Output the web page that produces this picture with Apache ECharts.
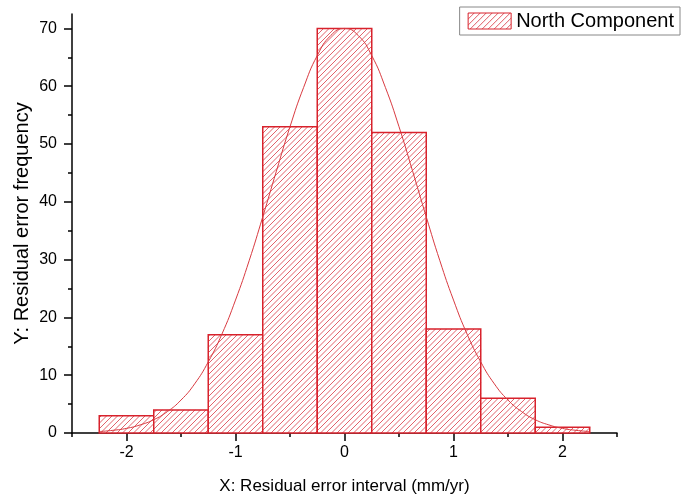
<!DOCTYPE html>
<html>
<head>
<meta charset="utf-8">
<script src="https://cdn.jsdelivr.net/npm/echarts@6/dist/echarts.min.js"></script>
<style>html,body{margin:0;padding:0;background:#fff;}#c{width:694px;height:502px;}</style>
</head>
<body>
<div id="c"></div>
<script>
// Histogram bins (centers, width 0.5) and counts
const binCenters = [-2, -1.5, -1, -0.5, 0, 0.5, 1, 1.5, 2];
const binCounts  = [3, 4, 17, 53, 70, 52, 18, 6, 1];
const binWidth = 0.5;
// Fitted curve points
const curveX = [-2.25,-2.125,-2,-1.875,-1.75,-1.625,-1.5,-1.375,-1.25,-1.125,-1,-0.875,-0.75,-0.625,-0.5,-0.375,-0.25,-0.125,0,0.125,0.25,0.375,0.5,0.625,0.75,0.875,1,1.125,1.25,1.375,1.5,1.625,1.75,1.875,2,2.125,2.25];
const curveY = [0.25,0.46,0.8,1.4,2.3,3.7,5.7,8.5,12.3,17.1,23,29.8,37.4,45.3,53,59.8,65.3,68.8,70,68.8,65.3,59.8,53,45.3,37.4,29.8,23,17.1,12.3,8.5,5.7,3.7,2.3,1.4,0.8,0.46,0.25];
const xMajorTicks = [-2, -1, 0, 1, 2];
const xMinorTicks = [-2.5, -1.5, -0.5, 0.5, 1.5, 2.5];
const yMajorTicks = [0, 10, 20, 30, 40, 50, 60, 70];
const yMinorTicks = [5, 15, 25, 35, 45, 55, 65];

const RED = '#d8222c';
const HATCH = '#dc4650';
const HATCH_STEP = 5.5;
function hatchCanvas() {
  const c = document.createElement('canvas');
  const s = 6;
  c.width = s; c.height = s;
  const g = c.getContext('2d');
  g.fillStyle = '#ffffff';
  g.fillRect(0, 0, s, s);
  g.strokeStyle = HATCH;
  g.lineWidth = 0.9;
  g.beginPath();
  g.moveTo(0, s); g.lineTo(s, 0);
  g.moveTo(-1, 1); g.lineTo(1, -1);
  g.moveTo(s - 1, s + 1); g.lineTo(s + 1, s - 1);
  g.stroke();
  return c;
}

const chart = echarts.init(document.getElementById('c'), null, { renderer: 'canvas' });
const font = 'Liberation Sans, Arial, sans-serif';
const axisLineStyle = { color: '#000', width: 1.5 };

function renderBar(params, api) {
  const xc = api.value(0), v = api.value(1);
  const p1 = api.coord([xc - binWidth / 2, v]);
  const p2 = api.coord([xc + binWidth / 2, 0]);
  const x0 = p1[0], x1 = p2[0], y0 = p1[1], y1 = p2[1];
  const children = [{
    type: 'rect', shape: { x: x0, y: y0, width: x1 - x0, height: y1 - y0 },
    style: { fill: '#fff', stroke: null }
  }];
  const kStart = Math.ceil((x0 + y0) / HATCH_STEP) * HATCH_STEP;
  for (let k = kStart; k <= x1 + y1; k += HATCH_STEP) {
    const xa = Math.max(x0, k - y1), xb = Math.min(x1, k - y0);
    if (xb > xa) {
      children.push({
        type: 'line', shape: { x1: xa, y1: k - xa, x2: xb, y2: k - xb },
        style: { stroke: HATCH, lineWidth: 0.85 }
      });
    }
  }
  children.push({
    type: 'rect', shape: { x: x0, y: y0, width: x1 - x0, height: y1 - y0 },
    style: { fill: null, stroke: RED, lineWidth: 1.5 }
  });
  return { type: 'group', children: children };
}

chart.setOption({
  animation: false,
  grid: { left: 72, right: 77, top: 14, bottom: 69 },
  legend: {
    right: 14, top: 7,
    orient: 'vertical',
    borderColor: '#888', borderWidth: 1,
    padding: [4, 6, 4, 8],
    itemWidth: 43, itemHeight: 16, itemGap: 6,
    textStyle: { fontSize: 20, color: '#000', fontFamily: font },
    data: [{ name: 'North Component', icon: 'rect',
      itemStyle: { color: { image: hatchCanvas(), repeat: 'repeat' }, borderColor: RED, borderWidth: 1 } }]
  },
  xAxis: [{
    type: 'value', min: -2.5, max: 2.5,
    name: 'X: Residual error interval (mm/yr)', nameLocation: 'middle', nameGap: 45,
    nameMoveOverlap: false,
    nameTextStyle: { fontSize: 17, color: '#000', fontFamily: font },
    axisLine: { onZero: false, lineStyle: axisLineStyle },
    axisTick: { show: true, length: 8, customValues: xMajorTicks, lineStyle: { color: '#000', width: 1.5 } },
    axisLabel: { customValues: xMajorTicks, fontSize: 16, color: '#000', fontFamily: font, margin: 12 },
    splitLine: { show: false }
  }, {
    type: 'value', min: -2.5, max: 2.5, position: 'bottom',
    axisLine: { show: false, onZero: false },
    axisTick: { show: true, length: 4, customValues: xMinorTicks, lineStyle: { color: '#000', width: 1.5 } },
    axisLabel: { show: false },
    splitLine: { show: false }
  }],
  yAxis: [{
    type: 'value', min: 0, max: 72.5,
    name: 'Y: Residual error frequency', nameLocation: 'middle', nameGap: 40,
    nameMoveOverlap: false,
    nameTextStyle: { fontSize: 20, color: '#000', fontFamily: font },
    axisLine: { show: true, onZero: false, lineStyle: axisLineStyle },
    axisTick: { show: true, length: 8, customValues: yMajorTicks, lineStyle: { color: '#000', width: 1.5 } },
    axisLabel: { customValues: yMajorTicks, fontSize: 16, color: '#000', fontFamily: font, margin: 15 },
    splitLine: { show: false }
  }, {
    type: 'value', min: 0, max: 72.5, position: 'left',
    axisLine: { show: false, onZero: false },
    axisTick: { show: true, length: 4, customValues: yMinorTicks, lineStyle: { color: '#000', width: 1.5 } },
    axisLabel: { show: false },
    splitLine: { show: false }
  }],
  series: [{
    name: 'North Component',
    type: 'custom',
    xAxisIndex: 0, yAxisIndex: 0,
    data: binCenters.map((c, i) => [c, binCounts[i]]),
    renderItem: renderBar,
    itemStyle: { color: RED },
    z: 2
  }, {
    name: 'fit',
    type: 'line',
    xAxisIndex: 0, yAxisIndex: 0,
    data: curveX.map((x, i) => [x, curveY[i]]),
    smooth: true, showSymbol: false, symbol: 'none',
    lineStyle: { color: '#d83a40', width: 1 },
    z: 3
  }]
});
</script>
</body>
</html>
